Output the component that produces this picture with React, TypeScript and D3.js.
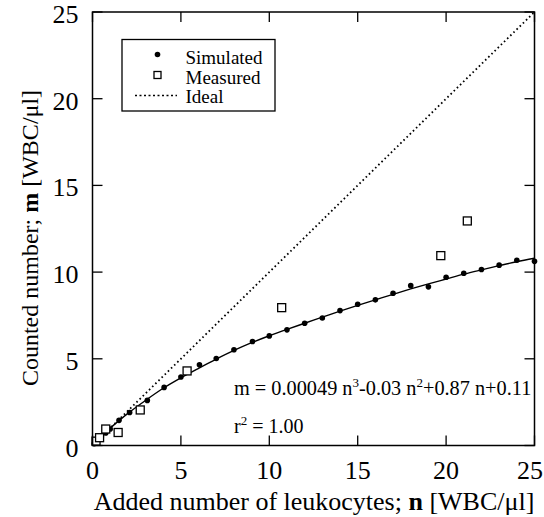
import React from "react";
import * as d3 from "d3";

// simulated counts (filled dots)
const simN = [0.1, 0.25, 0.5, 0.75, 1, 1.5, 2.1, 3.1, 4.05, 5, 6.05, 7, 8, 9.05, 10, 11, 12, 13, 14, 15, 16, 17, 18, 19, 20, 21, 22, 23, 24, 25];
const simM = [0.1, 0.25, 0.5, 0.72, 0.95, 1.45, 1.9, 2.6, 3.35, 3.95, 4.65, 5.02, 5.52, 6.0, 6.32, 6.67, 7.05, 7.35, 7.78, 8.15, 8.4, 8.78, 9.22, 9.15, 9.7, 9.93, 10.15, 10.4, 10.68, 10.62];

// measured counts (open squares)
const measN = [0.2, 0.4, 0.75, 1.45, 2.7, 5.35, 10.7, 19.7, 21.2];
const measM = [0.25, 0.45, 0.95, 0.75, 2.05, 4.3, 7.95, 10.95, 12.95];

// fitted curve
const fitN = [0, 1, 2, 3, 4, 5, 6, 7, 8, 9, 10, 11, 12, 13, 14, 15, 16, 17, 18, 19, 20, 21, 22, 23, 24, 25];
const fitM = [0.1, 1.0, 1.85, 2.6, 3.3, 3.9, 4.45, 4.98, 5.48, 5.93, 6.33, 6.7, 7.05, 7.4, 7.75, 8.08, 8.4, 8.72, 9.03, 9.32, 9.6, 9.88, 10.13, 10.37, 10.6, 10.8];

const ticks = [0, 5, 10, 15, 20, 25];

const W = 544;
const H = 517;
const left = 92.5;
const right = 534.5;
const top = 12;
const bottom = 445.5;
const font = "'Liberation Serif', 'Times New Roman', serif";

export default function App() {
  const x = d3.scaleLinear().domain([0, 25]).range([left, right]);
  const y = d3.scaleLinear().domain([0, 25]).range([bottom, top]);

  const fitLine = d3
    .line<number>()
    .x((d) => x(fitN[d]))
    .y((d) => y(fitM[d]))
    .curve(d3.curveMonotoneX);

  const tickLen = 10;

  return (
    <svg width={W} height={H} style={{ position: "absolute", left: 0, top: 0, background: "#fff" }}>
      {/* ideal line */}
      <line x1={x(0)} y1={y(0)} x2={x(25)} y2={y(25)} stroke="#000" strokeWidth={1.8} strokeDasharray="1.6 2.8" />

      {/* fit */}
      <path d={fitLine(fitN.map((_, i) => i)) || ""} fill="none" stroke="#000" strokeWidth={1.4} />

      {/* simulated */}
      {simN.map((n, i) => (
        <circle key={"s" + i} cx={x(n)} cy={y(simM[i])} r={2.8} fill="#000" />
      ))}

      {/* measured */}
      {measN.map((n, i) => (
        <rect key={"m" + i} x={x(n) - 4} y={y(measM[i]) - 4} width={8} height={8} fill="#fff" stroke="#000" strokeWidth={1.3} />
      ))}

      {/* frame */}
      <rect x={left} y={top} width={right - left} height={bottom - top} fill="none" stroke="#000" strokeWidth={1.5} />

      {/* ticks, inward on all four sides */}
      {ticks.map((t) => (
        <g key={"t" + t}>
          <line x1={x(t)} x2={x(t)} y1={bottom} y2={bottom - tickLen} stroke="#000" strokeWidth={1.3} />
          <line x1={x(t)} x2={x(t)} y1={top} y2={top + tickLen} stroke="#000" strokeWidth={1.3} />
          <line x1={left} x2={left + tickLen} y1={y(t)} y2={y(t)} stroke="#000" strokeWidth={1.3} />
          <line x1={right} x2={right - tickLen} y1={y(t)} y2={y(t)} stroke="#000" strokeWidth={1.3} />
          <text x={Math.min(x(t), 530)} y={479} textAnchor="middle" fontFamily={font} fontSize={26}>
            {t}
          </text>
          <text x={78.5} y={y(t) + 11} textAnchor="end" fontFamily={font} fontSize={26}>
            {t}
          </text>
        </g>
      ))}

      {/* axis titles */}
      <text x={314} y={510} textAnchor="middle" fontFamily={font} fontSize={26}>
        Added number of leukocytes; <tspan fontWeight="bold">n</tspan> [WBC/μl]
      </text>
      <text
        transform={`translate(38, 238) rotate(-90)`}
        textAnchor="middle"
        fontFamily={font}
        fontSize={24}
      >
        Counted number; <tspan fontWeight="bold">m</tspan> [WBC/μl]
      </text>

      {/* legend */}
      <rect x={122} y={39.5} width={153} height={71.5} fill="#fff" stroke="#000" strokeWidth={1.3} />
      <circle cx={157.5} cy={54.5} r={2.8} fill="#000" />
      <text x={185.5} y={63.5} fontFamily={font} fontSize={19}>Simulated</text>
      <rect x={154} y={71.5} width={7} height={7} fill="#fff" stroke="#000" strokeWidth={1.3} />
      <text x={185.5} y={83.5} fontFamily={font} fontSize={19}>Measured</text>
      <line x1={135} x2={177} y1={95.5} y2={95.5} stroke="#000" strokeWidth={1.3} strokeDasharray="2 2.5" />
      <text x={185.5} y={102.5} fontFamily={font} fontSize={19}>Ideal</text>

      {/* fit equation */}
      <text x={234} y={395} fontFamily={font} fontSize={20.3}>
        m = 0.00049 n<tspan dy={-8} fontSize={13}>3</tspan>
        <tspan dy={8}>-0.03 n</tspan>
        <tspan dy={-8} fontSize={13}>2</tspan>
        <tspan dy={8}>+0.87 n+0.11</tspan>
      </text>
      <text x={234} y={433} fontFamily={font} fontSize={20}>
        r<tspan dy={-8} fontSize={13}>2</tspan>
        <tspan dy={8}> = 1.00</tspan>
      </text>
    </svg>
  );
}
